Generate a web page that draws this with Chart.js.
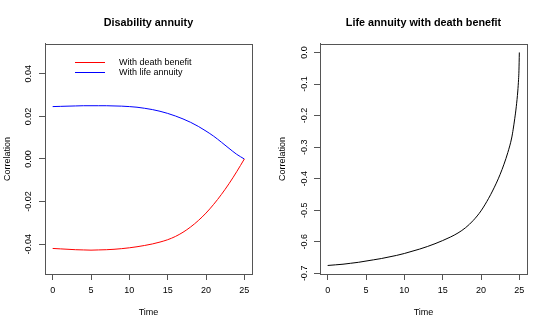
<!DOCTYPE html>
<html>
<head>
<meta charset="utf-8">
<script src="https://cdn.jsdelivr.net/npm/chart.js@4"></script>
<style>
  html, body { margin: 0; padding: 0; background: #fff; }
  #wrap { display: flex; width: 550px; height: 330px; }
  canvas { display: block; }
</style>
</head>
<body>
<div id="wrap">
  <canvas id="leftChart" width="275" height="330"></canvas>
  <canvas id="rightChart" width="275" height="330"></canvas>
</div>
<script>
// ====== DATA ======
const TIME = [0, 1, 2, 3, 4, 5, 6, 7, 8, 9, 10, 11, 12, 13, 14, 15, 16, 17, 18, 19, 20, 21, 22, 23, 24, 25];

const deathBenefit = [-0.0420, -0.0422, -0.0424, -0.0426, -0.0427, -0.0428, -0.0427, -0.0426, -0.0424, -0.0421,
                      -0.0417, -0.0412, -0.0406, -0.0399, -0.0390, -0.0379, -0.0364, -0.0344, -0.0319, -0.0289,
                      -0.0254, -0.0213, -0.0167, -0.0116, -0.0060, 0.0000];
const lifeAnnuity  = [0.0246, 0.0247, 0.0248, 0.0249, 0.0250, 0.0250, 0.0250, 0.0250, 0.0249, 0.0248,
                      0.0246, 0.0243, 0.0238, 0.0232, 0.0224, 0.0214, 0.0202, 0.0188, 0.0172, 0.0153,
                      0.0131, 0.0107, 0.0079, 0.0050, 0.0022, 0.0000];

const TIME_R = [0, 1, 2, 3, 4, 5, 6, 7, 8, 9, 10, 11, 12, 13, 14, 15, 16, 17, 18, 19, 20, 21, 21.5, 22, 22.5,
                23, 23.5, 24, 24.2, 24.4, 24.6, 24.8, 24.9, 24.95, 25];
const lifeWithDeath = [-0.675, -0.673, -0.671, -0.668, -0.665, -0.661, -0.657, -0.653, -0.648, -0.643,
                       -0.637, -0.630, -0.623, -0.615, -0.606, -0.596, -0.585, -0.572, -0.555, -0.532,
                       -0.502, -0.462, -0.439, -0.414, -0.386,
                       -0.354, -0.317, -0.271, -0.243, -0.210, -0.172, -0.122, -0.085, -0.058, 0.000];

const xTicks      = [0, 5, 10, 15, 20, 25];
const yTicksLeft  = [-0.04, -0.02, 0, 0.02, 0.04];
const yTicksRight = [-0.7, -0.6, -0.5, -0.4, -0.3, -0.2, -0.1, 0];

const legendLabels = ['With death benefit', 'With life annuity'];

// ====== STYLE ======
const FONT = '"Liberation Sans", Arial, Helvetica, sans-serif';
const AXIS_COLOR = '#555';

// ====== HELPERS ======
function pairs(xs, ys){ return xs.map((x, i) => ({ x, y: ys[i] })); }

function fixTicks(values){
  return scale => { scale.ticks = values.map(v => ({ value: v })); };
}

// box round the plot region; also centre the main title over the plot region like R does
const boxPlugin = {
  id: 'box',
  afterLayout(chart){
    const tb = chart.titleBlock;
    if (tb){
      tb.left = chart.chartArea.left;
      tb.right = chart.chartArea.right;
    }
  },
  afterDraw(chart){
    const { ctx, chartArea: a } = chart;
    ctx.save();
    ctx.strokeStyle = AXIS_COLOR;
    ctx.lineWidth = 1;
    ctx.strokeRect(Math.round(a.left) + 0.5, Math.round(a.top) + 0.5,
                   Math.round(a.right - a.left), Math.round(a.bottom - a.top));
    ctx.restore();
  }
};

// R-style legend without a box, drawn inside the plot region
const rLegendPlugin = {
  id: 'rLegend',
  afterDraw(chart, args, opts){
    if (!opts || !opts.show) return;
    const { ctx } = chart;
    ctx.save();
    ctx.font = '9px ' + FONT;
    ctx.textBaseline = 'middle';
    ctx.textAlign = 'left';
    chart.data.datasets.forEach((ds, i) => {
      const y = opts.y + i * opts.rowGap;
      ctx.strokeStyle = ds.borderColor;
      ctx.lineWidth = 1;
      ctx.beginPath();
      ctx.moveTo(opts.x, y + 0.5);
      ctx.lineTo(opts.x + opts.lineLen, y + 0.5);
      ctx.stroke();
      ctx.fillStyle = '#000';
      ctx.fillText(ds.label, opts.textX, y + 0.5);
    });
    ctx.restore();
  }
};

function makeChart(id, title, datasets, yMin, yMax, yTicks, decimals, yPad, legend){
  const ctx = document.getElementById(id).getContext('2d');
  return new Chart(ctx, {
    type: 'line',
    data: { datasets },
    options: {
      responsive: false,
      animation: false,
      devicePixelRatio: 1,
      layout: { padding: { left: 0, right: 23, top: 0, bottom: 0 } },
      elements: { point: { radius: 0 } },
      plugins: {
        legend: { display: false },
        tooltip: { enabled: false },
        title: {
          display: true,
          text: title,
          color: '#000',
          font: { family: FONT, size: 10.8, weight: 'bold' },
          padding: { top: 16.5, bottom: 14.5 }
        },
        rLegend: legend
      },
      scales: {
        x: {
          type: 'linear',
          min: -1, max: 26,
          afterBuildTicks: fixTicks(xTicks),
          afterFit: s => { s.height = 56; },
          grid: { drawOnChartArea: false, drawTicks: true, tickLength: 6, color: AXIS_COLOR },
          border: { display: true, color: AXIS_COLOR },
          ticks: { color: '#000', font: { family: FONT, size: 9 }, padding: 5, maxRotation: 0,
                   callback: v => String(v) },
          title: { display: true, text: 'Time', color: '#000', font: { family: FONT, size: 9 },
                   padding: { top: 0, bottom: 12.3 } }
        },
        y: {
          type: 'linear',
          min: yMin, max: yMax,
          afterBuildTicks: fixTicks(yTicks),
          afterFit: s => { s.width = 45; },
          grid: { drawOnChartArea: false, drawTicks: true, tickLength: 6, color: AXIS_COLOR },
          border: { display: true, color: AXIS_COLOR },
          ticks: { color: '#000', font: { family: FONT, size: 9 }, minRotation: 90, maxRotation: 90,
                   crossAlign: 'center', padding: yPad, callback: v => v.toFixed(decimals) },
          title: { display: true, text: 'Correlation', color: '#000', font: { family: FONT, size: 9 },
                   padding: { top: 2, bottom: 0 } }
        }
      }
    },
    plugins: [boxPlugin, rLegendPlugin]
  });
}

const lineStyle = { borderWidth: 1, pointRadius: 0, fill: false, cubicInterpolationMode: 'monotone' };

makeChart('leftChart', 'Disability annuity', [
  Object.assign({ label: legendLabels[0], data: pairs(TIME, deathBenefit), borderColor: 'red' }, lineStyle),
  Object.assign({ label: legendLabels[1], data: pairs(TIME, lifeAnnuity), borderColor: 'blue' }, lineStyle)
], -0.054, 0.054, yTicksLeft, 2, 0, { show: true, x: 75, y: 62, rowGap: 10, lineLen: 30, textX: 119 });

makeChart('rightChart', 'Life annuity with death benefit', [
  Object.assign({ label: 'Correlation', data: pairs(TIME_R, lifeWithDeath), borderColor: 'black' }, lineStyle)
], -0.702, 0.027, yTicksRight, 1, 1.5, { show: false });
</script>
</body>
</html>
